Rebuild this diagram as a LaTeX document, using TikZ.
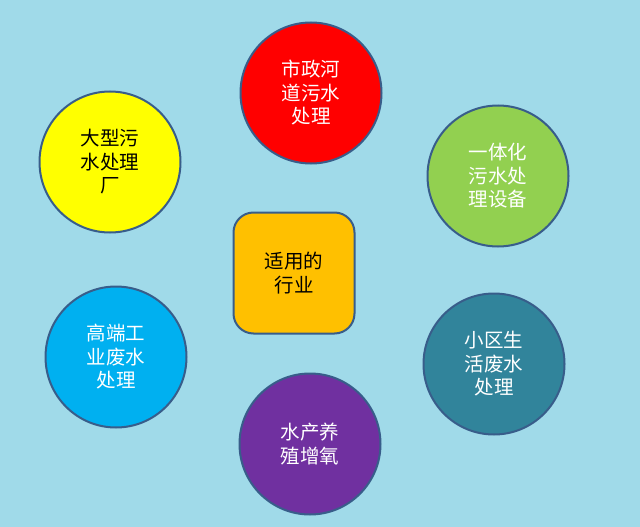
\documentclass[tikz,border=0pt]{standalone}
\usepackage{fontspec}
\newfontfamily\cjk{Noto Sans CJK SC}
\usepackage{tikz}
\definecolor{bgblue}{RGB}{160,218,233}
\definecolor{rimblue}{RGB}{56,93,138}
\definecolor{cRed}{RGB}{255,0,0}
\definecolor{cGreen}{RGB}{146,208,80}
\definecolor{cYellow}{RGB}{255,255,0}
\definecolor{cBlue}{RGB}{0,176,240}
\definecolor{cTeal}{RGB}{49,132,155}
\definecolor{cPurple}{RGB}{112,48,160}
\definecolor{cOrange}{RGB}{255,192,0}
\tikzset{
  field/.style={circle, draw=rimblue, line width=2pt, minimum size=141pt,
    inner sep=0pt, align=center, font=\cjk\fontsize{19.5}{23.5}\selectfont},
  hub/.style={rectangle, rounded corners=20pt, draw=rimblue, line width=2pt,
    fill=cOrange, minimum width=121pt, minimum height=121pt, align=center,
    font=\cjk\fontsize{19.5}{23.5}\selectfont}
}
\begin{document}
\begin{tikzpicture}[x=1pt,y=-1pt]
    \fill[bgblue] (0,0) rectangle (640,527);
    \useasboundingbox (0,0) rectangle (640,527);

    \node[hub] (hangye) at (294,273) {适用的\\行业};

    \node[field, fill=cRed, text=white] (shizheng) at (311,93) {市政河\\道污水\\处理};
    \node[field, fill=cGreen, text=white] (yiti) at (498,176) {一体化\\污水处\\理设备};
    \node[field, fill=cTeal, text=white] (xiaoqu) at (494,364) {小区生\\活废水\\处理};
    \node[field, fill=cPurple, text=white] (shuichan) at (310,444) {水产养\\殖增氧};
    \node[field, fill=cBlue, text=white] (gaoduan) at (116,357) {高端工\\业废水\\处理};
    \node[field, fill=cYellow, text=black] (dachang) at (110,162) {大型污\\水处理\\厂};
\end{tikzpicture}
\end{document}
